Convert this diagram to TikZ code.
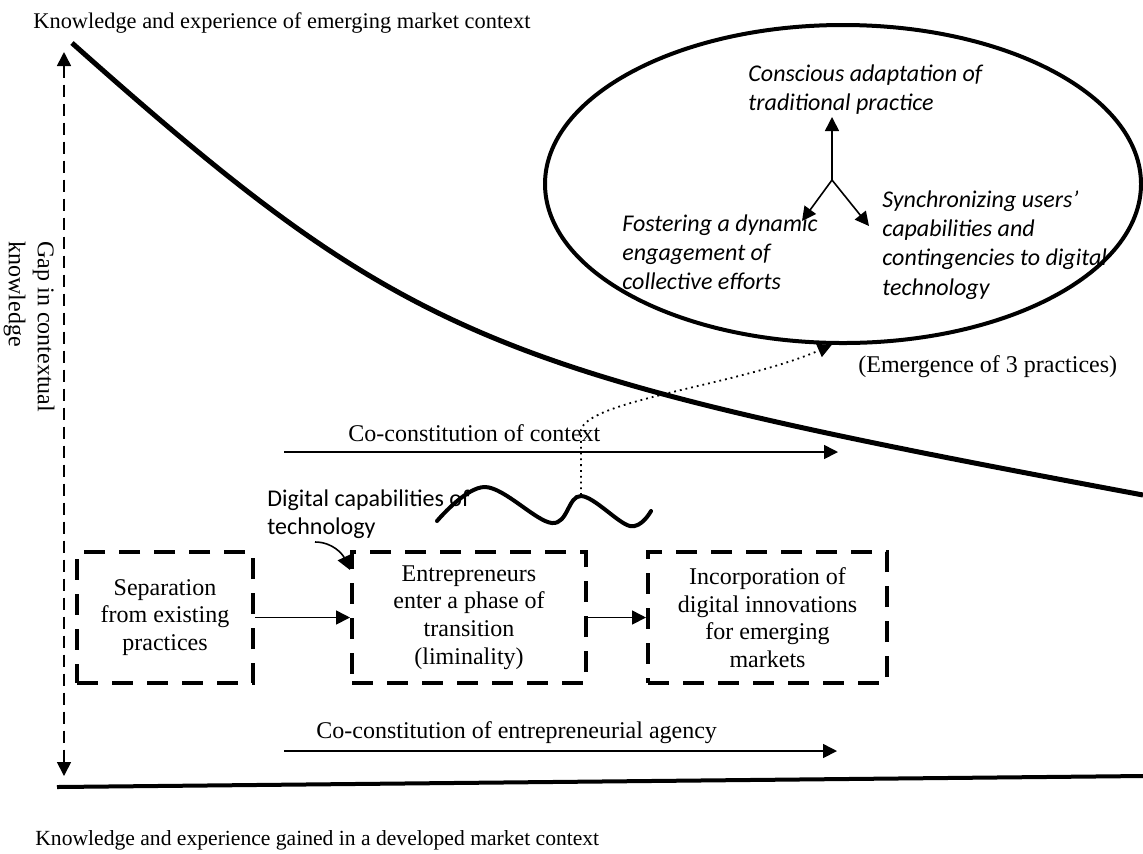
\documentclass[tikz,border=0pt]{standalone}
\usepackage{fontspec}
\setmainfont{Liberation Serif}
\newfontfamily\calibri{Carlito}
\usetikzlibrary{shapes.geometric, arrows.meta, positioning}

\begin{document}
\begin{tikzpicture}[
  x=0.5pt, y=-0.5pt,
  every node/.style={font=\fontsize{12}{13.8}\selectfont, inner sep=0pt},
  stageBox/.style={draw, line width=2pt, dash pattern=on 10.5pt off 7pt, minimum height=65.5pt, align=center},
  flowArrow/.style={-{Triangle[length=7pt,width=7pt]}, line width=0.8pt},
  practiceText/.style={font=\calibri\itshape\fontsize{12}{14.6}\selectfont, align=left, anchor=west}
]
  \useasboundingbox (0,0) rectangle (1143,853);

  \node[anchor=west, font=\fontsize{11.2}{13}\selectfont] (emergTxt) at (33,23) {Knowledge and experience of emerging market context};
  \node[anchor=west, font=\fontsize{10.8}{13}\selectfont] (devTxt) at (35,840) {Knowledge and experience gained in a developed market context};

  \coordinate (gapTop) at (64,52);
  \coordinate (gapBot) at (64,776);
  \draw[{Triangle[length=7pt,width=7pt]}-{Triangle[length=7pt,width=7pt]}, line width=0.8pt, dash pattern=on 6pt off 3.5pt] (gapTop) -- (gapBot);
  \node[rotate=-90, anchor=north west, align=left, font=\fontsize{12}{14.5}\selectfont] (gapTxt) at (55,241) {Gap in contextual\\knowledge};

  \draw[line width=2.5pt] (72,43) .. controls (412,345.6) and (493,373.5) .. (1143,495);
  \draw[line width=2pt] (57,787) -- (1143,776);

  \node[draw, ellipse, line width=2pt, minimum width=298pt, minimum height=159pt] (practices) at (843,184) {};
  \node[practiceText] (consc) at (748,89.5) {Conscious adaptation of\\traditional practice};
  \node[practiceText] (foster) at (622,252) {Fostering a dynamic\\engagement of\\collective efforts};
  \node[practiceText] (sync) at (882,245) {Synchronizing users’\\capabilities and\\contingencies to digital\\technology};
  \coordinate (hub) at (832,180);
  \coordinate (upEnd) at (832,117);
  \coordinate (leftEnd) at (802,221);
  \coordinate (rightEnd) at (869,226);
  \draw[flowArrow] (hub) -- (upEnd);
  \draw[flowArrow] (hub) -- (leftEnd);
  \draw[flowArrow] (hub) -- (rightEnd);
  \node[anchor=west] (emergence) at (858,367) {(Emergence of 3 practices)};

  \node[anchor=west] (ctxTxt) at (348,433) {Co-constitution of context};
  \coordinate (ctxStart) at (284,452);
  \coordinate (ctxEnd) at (838,452);
  \draw[flowArrow] (ctxStart) -- (ctxEnd);

  \draw[line width=2pt, line cap=round] plot[smooth, tension=0.6] coordinates {(437,521) (485,487) (552,523) (581,496) (630,526) (651,511)};
  \coordinate (crest) at (581,495);
  \draw[dotted, line width=0.9pt, -{Triangle[length=7pt,width=7pt]}] (crest) -- (581,430) .. controls (588,400) and (740,385) .. (practices.266);

  \node[anchor=west, align=left, font=\calibri\fontsize{12}{14}\selectfont] (digCap) at (267,514) {Digital capabilities of\\technology};

  \node[stageBox, minimum width=88pt] (st1) at (165,617.5) {Separation\\from existing\\practices};
  \node[stageBox, minimum width=117pt, right=47.5pt of st1] (st2) {Entrepreneurs\\enter a phase of\\transition\\(liminality)};
  \node[stageBox, minimum width=119.5pt, right=29pt of st2] (st3) {Incorporation of\\digital innovations\\for emerging\\markets};
  \draw[flowArrow] (st1) -- (st2);
  \draw[flowArrow] (st2) -- (st3);

  \coordinate (hook) at (315,542);
  \draw[flowArrow] (hook) to[out=0, in=115] ([yshift=-10pt]st2.north west);

  \node[anchor=west] (agencyTxt) at (316,733) {Co-constitution of entrepreneurial agency};
  \coordinate (agStart) at (284,751);
  \coordinate (agEnd) at (837,751);
  \draw[flowArrow] (agStart) -- (agEnd);

\end{tikzpicture}
\end{document}
